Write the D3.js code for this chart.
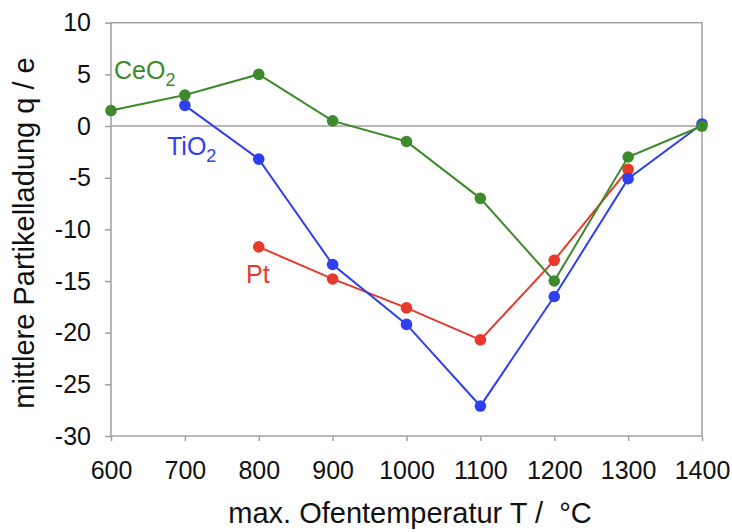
<!DOCTYPE html>
<html><head><meta charset="utf-8">
<script src="https://cdn.jsdelivr.net/npm/d3@7"></script>
<style>body{margin:0;background:#fff}svg{display:block}text{font-family:"Liberation Sans",Arial,sans-serif}</style>
</head><body><svg id="c" width="732" height="532"></svg>
<script>
const temps = [600,700,800,900,1000,1100,1200,1300,1400];
const ceo2 = [1.5,3,5,0.5,-1.5,-7,-15,-3,0];
const tio2 = [null,2,-3.2,-13.4,-19.2,-27.1,-16.5,-5.1,0.2];
const pt = [null,null,-11.7,-14.8,-17.6,-20.7,-13,-4.2,null];
const xTicks = [600,700,800,900,1000,1100,1200,1300,1400];
const yTicks = [10,5,0,-5,-10,-15,-20,-25,-30];
const colors = {ceo2:"#3d8a2c", tio2:"#2e3ff2", pt:"#e8392d"};

const svg = d3.select("#c");
const L=111,R=702,T=22.7,B=436;
const x = d3.scaleLinear().domain([600,1400]).range([L,R]);
const y = d3.scaleLinear().domain([-30,10]).range([B,T]);
const grey="#a0a0a0";
const fmt = d => String(d).replace("\u2212","-");

svg.append("rect").attr("x",L).attr("y",T).attr("width",R-L).attr("height",B-T)
  .attr("fill","none").attr("stroke",grey).attr("stroke-width",1.5);
svg.append("line").attr("x1",L).attr("x2",R).attr("y1",y(0)).attr("y2",y(0)).attr("stroke",grey).attr("stroke-width",1.5);

const ya = svg.append("g").attr("transform",`translate(${L},0)`)
  .call(d3.axisLeft(y).tickValues(yTicks).tickSize(6).tickPadding(14).tickFormat(fmt));
const xa = svg.append("g").attr("transform",`translate(0,${B})`)
  .call(d3.axisBottom(x).tickValues(xTicks).tickSize(5).tickPadding(20).tickFormat(fmt));
[ya,xa].forEach(a=>{
  a.attr("font-size",null).attr("font-family",null);
  a.select(".domain").remove();
  a.selectAll(".tick line").attr("stroke",grey).attr("stroke-width",1.5);
  a.selectAll(".tick text").attr("fill","#111").style("font-size","25px");
});

const line = d3.line().defined(d=>d[1]!=null).x(d=>x(d[0])).y(d=>y(d[1]));
function series(vals,col){
  const pts = temps.map((t,i)=>[t,vals[i]]);
  svg.append("path").datum(pts).attr("d",line).attr("fill","none").attr("stroke",col).attr("stroke-width",2);
  svg.selectAll(null).data(pts.filter(d=>d[1]!=null)).enter().append("circle")
    .attr("cx",d=>x(d[0])).attr("cy",d=>y(d[1])).attr("r",5.8).attr("fill",col);
}
series(pt,colors.pt);
series(tio2,colors.tio2);
series(ceo2,colors.ceo2);

function label(txt,sub,px,py,col){
  const t = svg.append("text").attr("x",px).attr("y",py).attr("fill",col).style("font-size","25px");
  t.append("tspan").text(txt);
  if(sub) t.append("tspan").attr("dy",7).style("font-size","18px").text(sub);
}
label("CeO","2",114,79,colors.ceo2);
label("TiO","2",167,155,colors.tio2);
label("Pt",null,246,283,colors.pt);

svg.append("text").attr("x",410).attr("y",523).attr("text-anchor","middle").attr("fill","#111")
  .style("font-size","29px").text("max. Ofentemperatur T /\u00A0 °C");
svg.append("text").attr("transform","translate(34,233) rotate(-90)").attr("text-anchor","middle").attr("fill","#111")
  .style("font-size","29px").text("mittlere Partikelladung q / e");
</script></body></html>
